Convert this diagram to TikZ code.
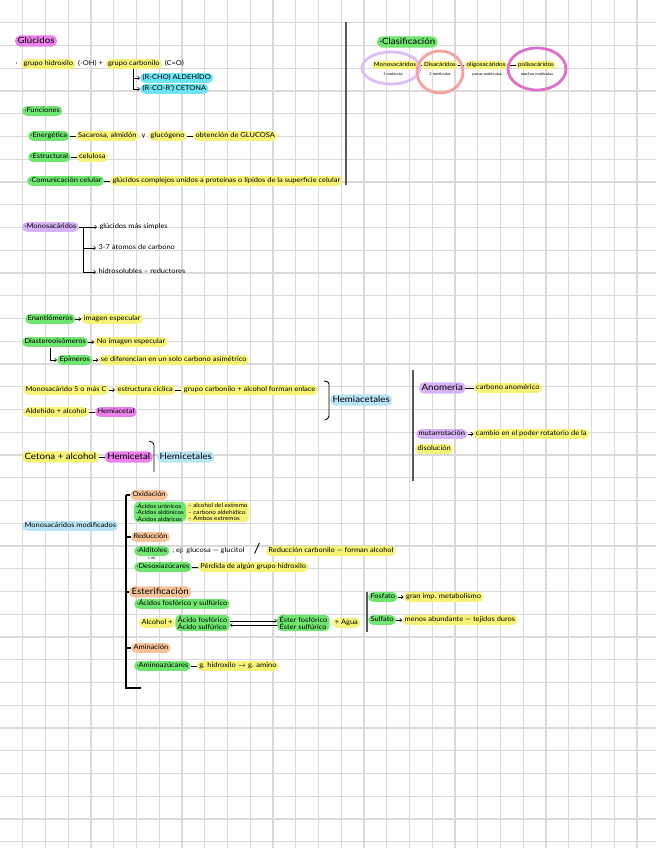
\documentclass[tikz,border=0pt]{standalone}
\usepackage{fontspec}
\setmainfont{Lato}[FakeStretch=1.12]
\usetikzlibrary{positioning}
\usetikzlibrary{arrows.meta}
\definecolor{hlyellow}{RGB}{246,244,120}
\definecolor{hlgreen}{RGB}{112,230,112}
\definecolor{hlpink}{RGB}{236,128,236}
\definecolor{hlcyan}{RGB}{110,228,244}
\definecolor{hlblue}{RGB}{184,228,246}
\definecolor{hlviolet}{RGB}{214,178,246}
\definecolor{hlorange}{RGB}{246,194,154}
\definecolor{gridgray}{RGB}{218,218,218}
\definecolor{ringviolet}{RGB}{222,190,248}
\definecolor{ringsalmon}{RGB}{246,160,160}
\definecolor{ringpink}{RGB}{226,110,204}
\newcommand\hw{\fontsize{5.7}{6.3}\selectfont}
\newcommand\hwbig{\fontsize{7.4}{8}\selectfont}
\newcommand\hwmid{\fontsize{4.8}{5.5}\selectfont}
\newcommand\hwtiny{\fontsize{3.1}{3.6}\selectfont}
\tikzset{
	note/.style={font=\hw, anchor=west, inner xsep=2pt, inner ysep=1.2pt, rounded corners=4pt, text height=4.4pt, text depth=1.4pt},
	hy/.style={note, fill=hlyellow},
	hg/.style={note, fill=hlgreen},
	hm/.style={note, fill=hlpink},
	hc/.style={note, fill=hlcyan},
	hb/.style={note, fill=hlblue},
	hv/.style={note, fill=hlviolet},
	ho/.style={note, fill=hlorange},
	multi/.style={text height={}, text depth={}, align=left},
	big/.style={font=\hwbig, text height=5.4pt, text depth=1.7pt},
	mid/.style={font=\hwmid, inner xsep=1.6pt, text height=3.6pt, text depth=1.1pt},
	small/.style={note, font=\hwtiny, anchor=center, text height=2.4pt, text depth=0.7pt},
	link/.style={line width=0.5pt, -{Straight Barb[length=1.6pt,width=2.8pt]}},
	tie/.style={line width=0.5pt},
	divider/.style={line width=1.3pt, black!65},
	ring/.style={line width=2.4pt}
}

\begin{document}
\begin{tikzpicture}[x=0.03cm, y=-0.03cm, node distance=5pt]
	\useasboundingbox (0,0) rectangle (656,848);
	\foreach \k in {1,...,28} \draw[gridgray, line width=0.9pt] (\k*22.75,0) -- (\k*22.75,848);
	\foreach \k in {1,...,37} \draw[gridgray, line width=0.9pt] (0,\k*22.75) -- (656,\k*22.75);

	% glucidos
	\node[hm, big] (gluc) at (15,41) {Glúcidos};
	\node[note] (pt1) at (13,64) {·};
	\node[hy] (hidrox) at (21,64) {grupo hidroxilo};
	\node[note, right=0pt of hidrox] (oh) {(-OH) +};
	\node[hy, right=0pt of oh] (carbon) {grupo carbonilo};
	\node[note, right=0pt of carbon] (co) {(C=O)};
	\coordinate (br) at (133,69);
	\node[hc] (alde) at (140,78) {(R-CHO) ALDEHÍDO};
	\node[hc] (ceto) at (140,89) {(R-CO-R') CETONA};
	\draw[link] (br) |- (alde.west);
	\draw[link] (br) |- (ceto.west);

	\node[hg] (func) at (22,111) {·Funciones};
	\node[hg] (energ) at (28,136) {·Energética};
	\node[hy, right=of energ] (sacar) {Sacarosa, almidón};
	\node[note, right=0pt of sacar] (yy) {y};
	\node[hy, right=0pt of yy] (glucog) {glucógeno};
	\node[hy, right=of glucog] (obten) {obtención de GLUCOSA};
	\draw[tie] (energ) -- (sacar);
	\draw[tie] (glucog) -- (obten);
	\node[hg] (estr) at (28,157) {·Estructural};
	\node[hy, right=of estr] (celul) {celulosa};
	\draw[tie] (estr) -- (celul);
	\node[hg] (comun) at (27,181) {·Comunicación celular};
	\node[hy, right=of comun] (compl) {glúcidos complejos unidos a proteínas o lípidos de la superficie celular};
	\draw[tie] (comun) -- (compl);

	\draw[divider] (346,22) -- (346,185);

	% clasificacion
	\node[hg, big] (clasif) at (377,42) {·Clasificación};
	\node[hy, mid, anchor=center] (mono) at (395,65) {Monosacáridos};
	\node[hy, mid, anchor=center] (di) at (440,65) {Disacáridos};
	\node[hy, mid, anchor=center] (oligo) at (486,65) {oligosacáridos};
	\node[hy, mid, anchor=center] (poli) at (536,65) {polisacáridos};
	\draw[tie] (mono) -- (di);
	\draw[tie] (di) -- (oligo);
	\draw[tie] (oligo) -- (poli);
	\node[small] (m1) at (393,75) {1 molécula};
	\node[small] (m2) at (440,75) {2 moléculas};
	\node[small] (m3) at (487,75) {pocas moléculas};
	\node[small] (m4) at (537,75) {muchas moléculas};
	\draw[ring, ringviolet] (391,68) ellipse [x radius=29, y radius=16];
	\draw[ring, ringsalmon] (440,72) ellipse [x radius=23, y radius=21];
	\draw[ring, ringpink] (537,69) ellipse [x radius=29, y radius=21];

	% monosacaridos
	\node[hv] (monos) at (22,227) {·Monosacáridos};
	\coordinate (mbr) at (83,227);
	\node[note] (simple) at (97,227) {glúcidos más simples};
	\node[note] (atom) at (96,248) {3-7 átomos de carbono};
	\node[note] (hidro) at (96,272) {hidrosolubles – reductores};
	\draw[tie] (monos) -- (mbr);
	\draw[link] (mbr) -- (simple);
	\draw[link] (mbr) |- (atom.west);
	\draw[link] (mbr) |- (hidro.west);

	% isomeros
	\node[hg] (enan) at (25,319) {Enantiómeros};
	\node[hy, right=of enan] (espec) {imagen especular};
	\draw[link] (enan) -- (espec);
	\node[hg] (diast) at (22,342) {Diastereoisómeros};
	\node[hy, right=of diast] (noesp) {No imagen especular};
	\draw[link] (diast) -- (noesp);
	\coordinate (epi0) at (50,348);
	\node[hg] (epim) at (57,360) {Epímeros};
	\node[hy, right=of epim] (dif) {se diferencian en un solo carbono asimétrico};
	\draw[link] (epi0) |- (epim.west);
	\draw[link] (epim) -- (dif);

	% hemiacetales
	\node[hy] (mono5) at (23,390) {Monosacárido 5 o más C};
	\node[hy, right=of mono5] (cicl) {estructura cíclica};
	\node[hy, right=of cicl] (enlace) {grupo carbonilo + alcohol forman enlace};
	\draw[link] (mono5) -- (cicl);
	\draw[tie] (cicl) -- (enlace);
	\node[hy] (aldal) at (23,412) {Aldehído + alcohol};
	\node[hm, right=of aldal] (hemiac) {Hemiacetal};
	\draw[tie] (aldal) -- (hemiac);
	\draw[line width=0.7pt, rounded corners=2pt] (324,381) -- (329,382) -- (329,418) -- (325,420);
	\node[hb, big] (hemiacs) at (330,400) {Hemiacetales};
	\node[hy, big] (cetal) at (22,457) {Cetona + alcohol};
	\node[hm, big, right=of cetal] (hemic) {Hemicetal};
	\draw[tie] (cetal) -- (hemic);
	\draw[line width=0.7pt, rounded corners=2pt] (149,441) -- (154,443) -- (154,472);
	\node[hb, big] (hemics) at (157,457) {Hemicetales};

	\draw[divider] (413,370) -- (413,481);
	\node[hv, big] (anom) at (419,388) {Anomería};
	\node[hy, right=7pt of anom] (carbanom) {carbono anomérico};
	\draw[tie] (anom) -- (carbanom);
	\node[hv] (mutar) at (416,434) {mutarrotación};
	\node[hy, right=of mutar] (cambio) {cambio en el poder rotatorio de la};
	\node[hy] (disol) at (415,449) {disolución};
	\draw[link] (mutar) -- (cambio);

	% modificados
	\node[hb] (modif) at (22,526) {Monosacáridos modificados};
	\coordinate (ttop) at (126,495);
	\coordinate (tbot) at (126,688);
	\coordinate (tend) at (141,688);
	\draw[line width=0.9pt] (ttop) -- (tbot) -- (tend);
	\node[ho] (oxid) at (130,495) {Oxidación};
	\node[hg, mid, multi] (acidos) at (134,512) {·Ácidos urónicos\\·Ácidos aldónicos\\·Ácidos aldáricos};
	\node[hy, mid, multi, right=0pt of acidos] (oxtxt) {– alcohol del extremo\\– carbono aldehídico\\– Ambos extremos};
	\node[ho] (reduc) at (131,537) {Reducción};
	\node[hg] (aldit) at (134,551) {·Alditoles};
	\node[small, below=-1pt of aldit] (ol) {(-ol)};
	\node[note, right=0pt of aldit] (ejgl) {; ej: glucosa — glucitol};
	\node[note, font=\hwbig, scale=1.6, right=2pt of ejgl] (slash) {/};
	\node[hy, right=1pt of slash] (redcarb) {Reducción carbonilo — forman alcohol};
	\node[hg] (desox) at (134,567) {·Desoxiazúcares};
	\node[hy, right=of desox] (perd) {Pérdida de algún grupo hidroxilo};
	\draw[tie] (desox) -- (perd);
	\node[ho, big] (ester) at (129,592) {Esterificación};
	\node[hg] (acfs) at (134,604) {·Ácidos fosfórico y sulfúrico};
	\node[hy] (alcoh) at (139,623) {Alcohol +};
	\node[hg, multi, right=0pt of alcoh] (acfs2) {Ácido fosfórico\\Ácido sulfúrico};
	\node[hg, multi] (ester2) at (277,623) {Éster fosfórico\\Éster sulfúrico};
	\node[hy, right=2pt of ester2] (agua) {+ Agua};
	\draw[link] ([yshift=1.8pt]acfs2.east) -- ([yshift=1.8pt]ester2.west);
	\draw[link] ([yshift=-1.8pt]ester2.west) -- ([yshift=-1.8pt]acfs2.east);
	\node[ho] (amin) at (131,648) {Aminación};
	\node[hg] (aminoaz) at (134,666) {·Aminoazúcares};
	\node[hy, right=of aminoaz] (gamino) {g. hidroxilo $\to$ g. amino};
	\draw[tie] (aminoaz) -- (gamino);
	\foreach \b in {oxid,reduc,ester,amin} \draw[line width=0.9pt] (\b.west) -- (\b.west -| ttop);

	\draw[divider] (367,592) -- (367,632);
	\node[hg] (fosf) at (368,597) {Fosfato};
	\node[hy, right=of fosf] (imp) {gran imp. metabolismo};
	\draw[link] (fosf) -- (imp);
	\node[hg] (sulf) at (368,620) {Sulfato};
	\node[hy, right=of sulf] (abund) {menos abundante — tejidos duros};
	\draw[link] (sulf) -- (abund);
\end{tikzpicture}
\end{document}
